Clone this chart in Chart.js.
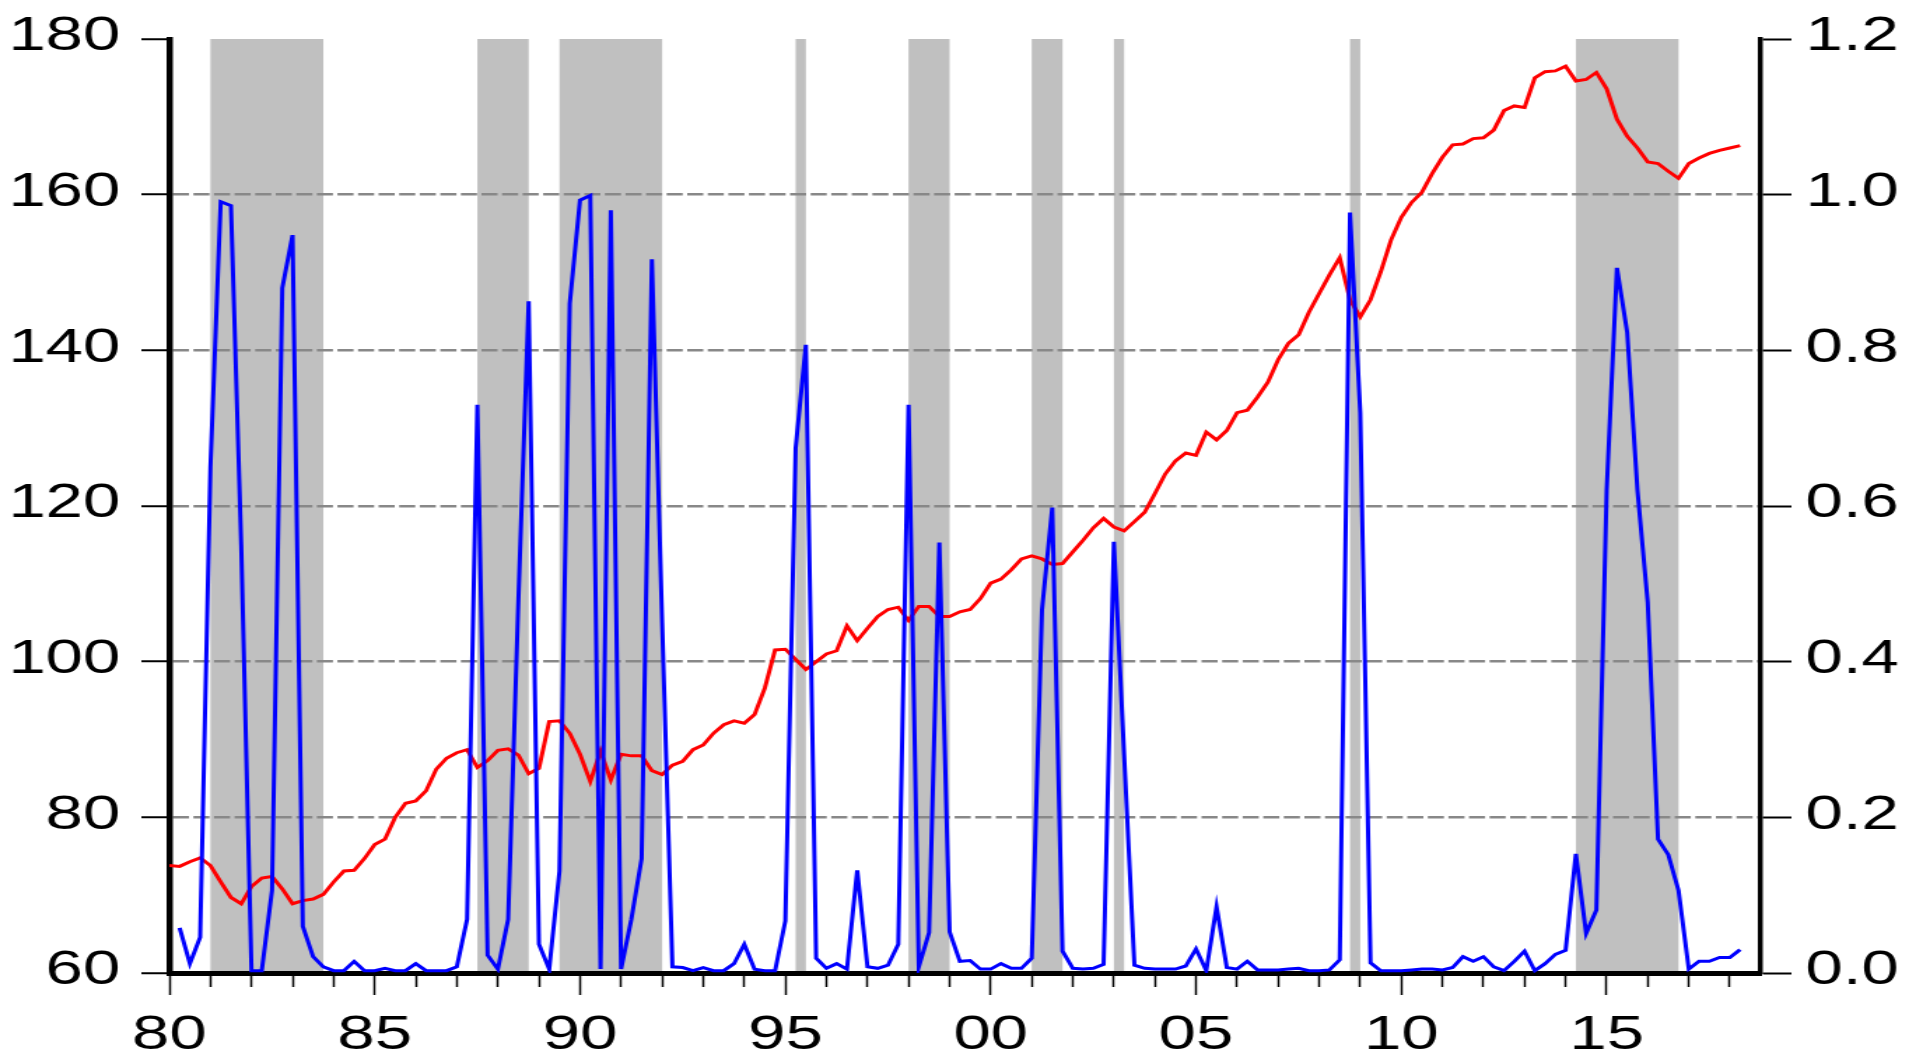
<!DOCTYPE html>
<html>
<head>
<meta charset="utf-8">
<script src="https://cdn.jsdelivr.net/npm/chart.js@4.4.1/dist/chart.umd.min.js"></script>
<style>
  html, body { margin: 0; padding: 0; background: #fff; overflow: hidden; }
  /* the source picture is stretched sideways, so the canvas is too */
  #wrap { width: 1374px; height: 1058px; transform: scaleX(1.39956); transform-origin: 0 0; }
</style>
</head>
<body>
<div id="wrap"><canvas id="chart" width="1374" height="1058"></canvas></div>
<script>
// ===== DATA (quarterly, 1980Q1 .. 2018Q2) =====
const startYear = 1980;

// red line, left axis
const indexSeries = [
  73.8, 73.7, 74.3, 74.8, 73.8, 71.7, 69.7, 68.9, 71.1, 72.2, 72.4, 70.8, 68.9, 69.3, 69.5, 70.1,
  71.7, 73.1, 73.2, 74.7, 76.5, 77.2, 80.0, 81.8, 82.1, 83.4, 86.2, 87.6, 88.3, 88.7, 86.4, 87.3,
  88.6, 88.8, 88.0, 85.6, 86.3, 92.3, 92.4, 90.8, 88.1, 84.6, 88.5, 84.8, 88.1, 87.9, 87.9, 86.0,
  85.5, 86.7, 87.2, 88.7, 89.3, 90.8, 91.9, 92.4, 92.1, 93.2, 96.6, 101.5, 101.6, 100.3, 99.0, 100.0,
  101.0, 101.4, 104.6, 102.7, 104.3, 105.8, 106.7, 107.0, 105.3, 107.1, 107.1, 105.8, 105.8, 106.4, 106.7, 108.1,
  110.1, 110.6, 111.8, 113.2, 113.6, 113.2, 112.5, 112.6, 114.1, 115.6, 117.2, 118.4, 117.3, 116.8, 118.0, 119.2,
  121.6, 124.1, 125.8, 126.8, 126.5, 129.5, 128.5, 129.7, 132.0, 132.3, 134.0, 135.9, 138.8, 140.9, 142.0, 144.9,
  147.3, 149.7, 151.9, 146.5, 144.3, 146.5, 150.1, 154.2, 157.1, 159.0, 160.3, 162.7, 164.8, 166.4, 166.5, 167.2,
  167.3, 168.3, 170.8, 171.4, 171.2, 175.0, 175.8, 175.9, 176.5, 174.6, 174.8, 175.7, 173.6, 169.7, 167.5, 166.0,
  164.2, 164.0, 163.0, 162.1, 164.0, 164.7, 165.3, 165.7, 166.0, 166.3
];

// blue line, right axis
const probSeries = [
  null, 0.058, 0.012, 0.046, 0.65, 0.991, 0.986, 0.55, 0.003, 0.003, 0.106, 0.88, 0.948, 0.06, 0.021, 0.008,
  0.003, 0.003, 0.015, 0.003, 0.003, 0.006, 0.003, 0.003, 0.012, 0.003, 0.003, 0.003, 0.008, 0.069, 0.73, 0.023,
  0.005, 0.069, 0.48, 0.863, 0.037, 0.005, 0.131, 0.86, 0.993, 0.999, 0.005, 0.98, 0.005, 0.069, 0.147, 0.917,
  0.45, 0.008, 0.007, 0.003, 0.007, 0.003, 0.003, 0.012, 0.037, 0.005, 0.003, 0.003, 0.067, 0.674, 0.807, 0.019,
  0.006, 0.012, 0.005, 0.132, 0.008, 0.006, 0.010, 0.037, 0.730, 0.008, 0.052, 0.553, 0.053, 0.015, 0.016, 0.005,
  0.005, 0.012, 0.006, 0.006, 0.019, 0.467, 0.598, 0.028, 0.006, 0.005, 0.006, 0.011, 0.554, 0.28, 0.010, 0.006,
  0.005, 0.005, 0.005, 0.009, 0.031, 0.003, 0.085, 0.007, 0.005, 0.015, 0.004, 0.004, 0.004, 0.005, 0.006, 0.003,
  0.003, 0.004, 0.017, 0.977, 0.72, 0.013, 0.003, 0.003, 0.003, 0.004, 0.005, 0.005, 0.004, 0.007, 0.021, 0.015,
  0.021, 0.008, 0.003, 0.015, 0.028, 0.003, 0.012, 0.024, 0.029, 0.153, 0.051, 0.081, 0.62, 0.906, 0.823, 0.62,
  0.476, 0.172, 0.152, 0.106, 0.005, 0.015, 0.015, 0.020, 0.020, 0.030
];

// shaded periods [start, end] in years
const recessions = [
  [1981.0, 1983.75], [1987.5, 1988.75], [1989.5, 1992.0], [1995.25, 1995.5], [1998.0, 1999.0],
  [2001.0, 2001.75], [2003.0, 2003.25], [2008.75, 2009.0], [2014.25, 2016.75]
];

const leftTicks = [60, 80, 100, 120, 140, 160, 180];
const rightTicks = [0.0, 0.2, 0.4, 0.6, 0.8, 1.0, 1.2];
const xLabelYears = [1980, 1985, 1990, 1995, 2000, 2005, 2010, 2015];
const xLabels = ['80', '85', '90', '95', '00', '05', '10', '15'];
const yearTicks = [];
for (let y = 1980; y <= 2018; y++) yearTicks.push(y);

// quarter positions
const quarters = [];
for (let i = 0; i < indexSeries.length; i++) quarters.push(startYear + i / 4);

const FONT = "'Liberation Sans', Arial, sans-serif";

// ===== shaded bands, under the grid =====
const bandPlugin = {
  id: 'bands',
  beforeDraw(chart) {
    const { ctx, chartArea, scales } = chart;
    ctx.save();
    ctx.fillStyle = '#c0c0c0';
    recessions.forEach(([a, b]) => {
      const x1 = scales.x.getPixelForValue(a);
      const x2 = scales.x.getPixelForValue(b);
      ctx.fillRect(x1, chartArea.top, x2 - x1, chartArea.bottom - chartArea.top);
    });
    ctx.restore();
  }
};

new Chart(document.getElementById('chart'), {
  type: 'line',
  data: {
    labels: quarters,
    datasets: [
      {
        label: 'prob',
        data: probSeries,
        yAxisID: 'y1',
        borderColor: '#0000ff',
        borderWidth: 3,
        pointRadius: 0,
        tension: 0,
        spanGaps: false
      },
      {
        label: 'index',
        data: indexSeries,
        yAxisID: 'y',
        borderColor: '#ff0000',
        borderWidth: 3,
        pointRadius: 0,
        tension: 0
      }
    ]
  },
  options: {
    responsive: false,
    animation: false,
    layout: { padding: { top: 39, left: 0, right: 0, bottom: 0 } },
    plugins: { legend: { display: false }, tooltip: { enabled: false } },
    scales: {
      x: {
        type: 'linear',
        min: 1980,
        max: 2018.75,
        afterBuildTicks: s => { s.ticks = yearTicks.map(v => ({ value: v })); },
        afterFit: s => { s.height = 85; },
        grid: {
          drawOnChartArea: false,
          tickLength: 22,
          tickWidth: 1.5,
          tickColor: '#000',
          tickBorderDash: c => (c.tick && xLabelYears.includes(c.tick.value)) ? [] : [11, 60]
        },
        border: { display: true, color: '#000', width: 5 },
        ticks: {
          autoSkip: false,
          maxRotation: 0,
          padding: 12,
          color: '#000',
          font: { family: FONT, size: 48 },
          callback: v => {
            const k = xLabelYears.indexOf(v);
            return k >= 0 ? xLabels[k] : '';
          }
        }
      },
      y: {
        position: 'left',
        min: 60,
        max: 180,
        afterBuildTicks: s => { s.ticks = leftTicks.map(v => ({ value: v })); },
        afterFit: s => { s.width = 121; },
        grid: {
          color: c => (c.tick && (c.tick.value === 60 || c.tick.value === 180)) ? 'rgba(0,0,0,0)' : '#888888',
          lineWidth: 2.5,
          tickLength: 20,
          tickWidth: 2,
          tickColor: '#000'
        },
        border: { display: true, color: '#000', width: 4.5, dash: [11.5, 3.2] },
        ticks: {
          padding: 15,
          labelOffset: -2,
          color: '#000',
          font: { family: FONT, size: 48, lineHeight: 1 },
          callback: v => String(v)
        }
      },
      y1: {
        position: 'right',
        min: 0,
        max: 1.2,
        afterBuildTicks: s => { s.ticks = rightTicks.map(v => ({ value: v })); },
        afterFit: s => { s.width = 116; },
        grid: {
          drawOnChartArea: false,
          tickLength: 22,
          tickWidth: 2,
          tickColor: '#000'
        },
        border: { display: true, color: '#000', width: 3.5 },
        ticks: {
          padding: 10,
          labelOffset: -2,
          color: '#000',
          font: { family: FONT, size: 48, lineHeight: 1 },
          callback: v => v.toFixed(1)
        }
      }
    }
  },
  plugins: [bandPlugin]
});
</script>
</body>
</html>
